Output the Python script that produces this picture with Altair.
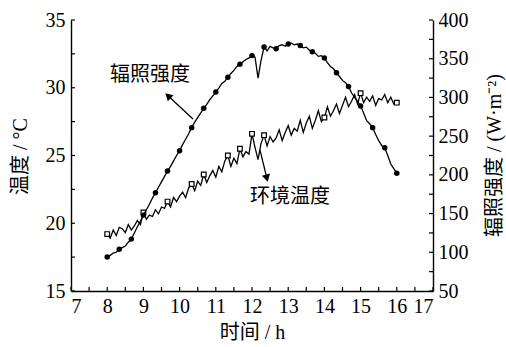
import altair as alt
import pandas as pd

# time grid: 5-minute readings from 8:00 to 16:00
hours = [8 + i * 5 / 60 for i in range(97)]

# ambient temperature (°C), left axis
temp = [
    19.2, 18.9, 19.5, 19.1, 19.7, 19.6, 19.3, 19.9, 19.5, 19.8, 20.2, 19.9,
    20.8, 20.3, 20.6, 20.5, 21.0, 20.7, 21.2, 21.1, 21.6, 21.2, 21.9, 21.6,
    22.0, 22.3, 21.9, 22.6, 22.9, 22.4, 23.1, 22.8, 23.6, 23.0, 23.5, 23.9,
    23.4, 24.2, 23.8, 24.6, 25.0, 24.2, 24.8, 24.4, 25.5, 24.9, 25.3, 25.1,
    26.6, 25.6, 24.7, 25.9, 26.5, 25.7, 26.4, 26.0, 26.3, 26.9, 26.1, 26.7,
    27.2, 26.5, 27.0, 26.8, 27.6, 26.7, 27.4, 27.9, 27.0, 27.6, 28.3, 27.5,
    27.8, 28.6, 27.9, 28.3, 28.8, 28.1, 28.7, 29.3, 28.6, 29.0, 29.5, 28.8,
    29.6, 28.9, 29.3, 29.0, 29.4, 28.7, 29.2, 29.1, 29.5, 28.9, 29.3, 28.8,
    28.9,
]

# irradiance (W·m^-2), right axis
irr = [
    94, 96, 99, 100, 104, 106, 108, 113, 117, 125, 133, 140,
    148, 155, 162, 170, 177, 184, 191, 198, 205, 211, 218, 225,
    231, 239, 246, 253, 261, 268, 274, 280, 286, 291, 297, 302,
    307, 312, 318, 321, 326, 331, 335, 340, 343, 346, 349, 351,
    354, 352, 325, 348, 365, 360, 366, 364, 363, 367, 368, 366,
    369, 370, 368, 369, 367, 364, 365, 361, 359, 357, 353, 354,
    351, 345, 340, 337, 332, 327, 322, 319, 314, 306, 300, 295,
    289, 280, 270, 266, 261, 252, 244, 238, 235, 225, 214, 208,
    202,
]

temp_marker_idx = [0, 12, 20, 28, 32, 40, 44, 48, 52, 72, 84, 96]
irr_marker_idx = list(range(0, 97, 4))

x_tick_labels = [7, 8, 9, 10, 11, 12, 13, 14, 15, 16, 17]
x_ticks = [7, 7.5, 8, 8.5, 9, 9.5, 10, 10.5, 11, 11.5, 12, 12.5, 13, 13.5,
           14, 14.5, 15, 15.5, 16, 16.5, 17]
left_tick_labels = [15, 20, 25, 30, 35]
left_ticks = [15, 17.5, 20, 22.5, 25, 27.5, 30, 32.5, 35]
right_tick_labels = [50, 100, 150, 200, 250, 300, 350, 400]
right_ticks = [50, 75, 100, 125, 150, 175, 200, 225, 250, 275, 300, 325,
               350, 375, 400]

# annotations (in time / temperature coordinates)
ann_text = ["辐照强度", "环境温度"]
ann_h = [9.18, 13.05]
ann_T = [30.94, 21.94]
arrow_h1 = [10.37, 12.22]
arrow_T1 = [27.69, 25.41]
arrow_h2 = [9.68, 12.41]
arrow_T2 = [29.41, 23.33]
arrow_angle = [313, 166]

FONT = "Liberation Serif, Noto Sans CJK SC"
FS = 20

df = pd.DataFrame({"h": hours, "T": temp, "I": irr})
df_tm = df.iloc[temp_marker_idx]
df_im = df.iloc[irr_marker_idx]
df_ann = pd.DataFrame({"h": ann_h, "T": ann_T, "label": ann_text})
df_arr = pd.DataFrame({"h": arrow_h1, "T": arrow_T1, "h2": arrow_h2,
                       "T2": arrow_T2, "ang": arrow_angle})
df_xt = pd.DataFrame({"v": x_ticks})
df_lt = pd.DataFrame({"v": left_ticks})
df_rt = pd.DataFrame({"v": right_ticks})

xs = alt.Scale(domain=[7, 17], nice=False, zero=False)
yls = alt.Scale(domain=[15, 35], nice=False, zero=False)
yrs = alt.Scale(domain=[50, 400], nice=False, zero=False)

x_axis = alt.Axis(values=x_tick_labels, ticks=False, labelPadding=5,
                  title="时间 / h", titleX=181, titleY=41,
                  titleBaseline="middle", titleAlign="center")
yl_axis = alt.Axis(values=left_tick_labels, ticks=False, labelPadding=6,
                   title="温度 / °C", titleAngle=270, titleX=-51, titleY=136,
                   titleAlign="center", titleBaseline="middle")
yr_axis = alt.Axis(values=right_tick_labels, ticks=False, labelPadding=5,
                   orient="right", title="辐照强度 / (W·m⁻²)", titleAngle=270,
                   titleX=61, titleY=135, titleAlign="center",
                   titleBaseline="middle")


def X(f):
    return alt.X(f, type="quantitative", scale=xs, axis=x_axis)


def YL(f):
    return alt.Y(f, type="quantitative", scale=yls, axis=yl_axis)


def YR(f):
    return alt.Y(f, type="quantitative", scale=yrs, axis=yr_axis)


temp_line = alt.Chart(df).mark_line(color="black", strokeWidth=1.3).encode(
    x=X("h"), y=YL("T"))
temp_pts = alt.Chart(df_tm).mark_point(
    shape="square", filled=True, fill="white", stroke="black",
    strokeWidth=1.2, size=22, opacity=1
).encode(x=X("h"), y=YL("T"))
ann = alt.Chart(df_ann).mark_text(
    font=FONT, fontSize=FS, color="black", align="center", baseline="middle"
).encode(x=X("h"), y=YL("T"), text="label:N")
arr_lines = alt.Chart(df_arr).mark_rule(color="black", strokeWidth=1.3).encode(
    x=X("h"), y=YL("T"), x2="h2:Q", y2="T2:Q")
arr_heads = alt.Chart(df_arr).mark_point(
    shape="triangle-up", filled=True, color="black", size=70, opacity=1
).encode(x=X("h2"), y=YL("T2"), angle=alt.Angle("ang:Q", scale=None))
xt = alt.Chart(df_xt).mark_rule(color="black", strokeWidth=1.2).encode(
    x=X("v"),
    y=alt.YDatum(15, scale=yls, axis=yl_axis),
    y2=alt.Y2Datum(15.3),
)
lt = alt.Chart(df_lt).mark_rule(color="black", strokeWidth=1.2).encode(
    y=YL("v"),
    x=alt.XDatum(7, scale=xs, axis=x_axis),
    x2=alt.X2Datum(7.11),
)

irr_line = alt.Chart(df).mark_line(color="black", strokeWidth=1.3).encode(
    x=X("h"), y=YR("I"))
irr_pts = alt.Chart(df_im).mark_circle(color="black", size=30, opacity=1).encode(
    x=X("h"), y=YR("I"))
rt = alt.Chart(df_rt).mark_rule(color="black", strokeWidth=1.2).encode(
    y=YR("v"),
    x=alt.XDatum(16.89, scale=xs, axis=x_axis),
    x2=alt.X2Datum(17),
)

left = alt.layer(temp_line, temp_pts, ann, arr_lines, arr_heads, xt, lt)
right = alt.layer(irr_line, irr_pts, rt)

chart = alt.layer(left, right).resolve_scale(y="independent").properties(
    width=362,
    height=271,
    autosize=alt.AutoSizeParams(type="none"),
    padding={"left": 71, "top": 20, "right": 73, "bottom": 56},
).configure_view(stroke=None).configure_axis(
    grid=False,
    domainColor="black",
    domainWidth=1.4,
    labelColor="black",
    titleColor="black",
    labelFont=FONT,
    titleFont=FONT,
    labelFontSize=FS,
    titleFontSize=FS,
    titleFontWeight="normal",
)

chart.save("out.html", embed_options={"renderer": "svg", "actions": False})
